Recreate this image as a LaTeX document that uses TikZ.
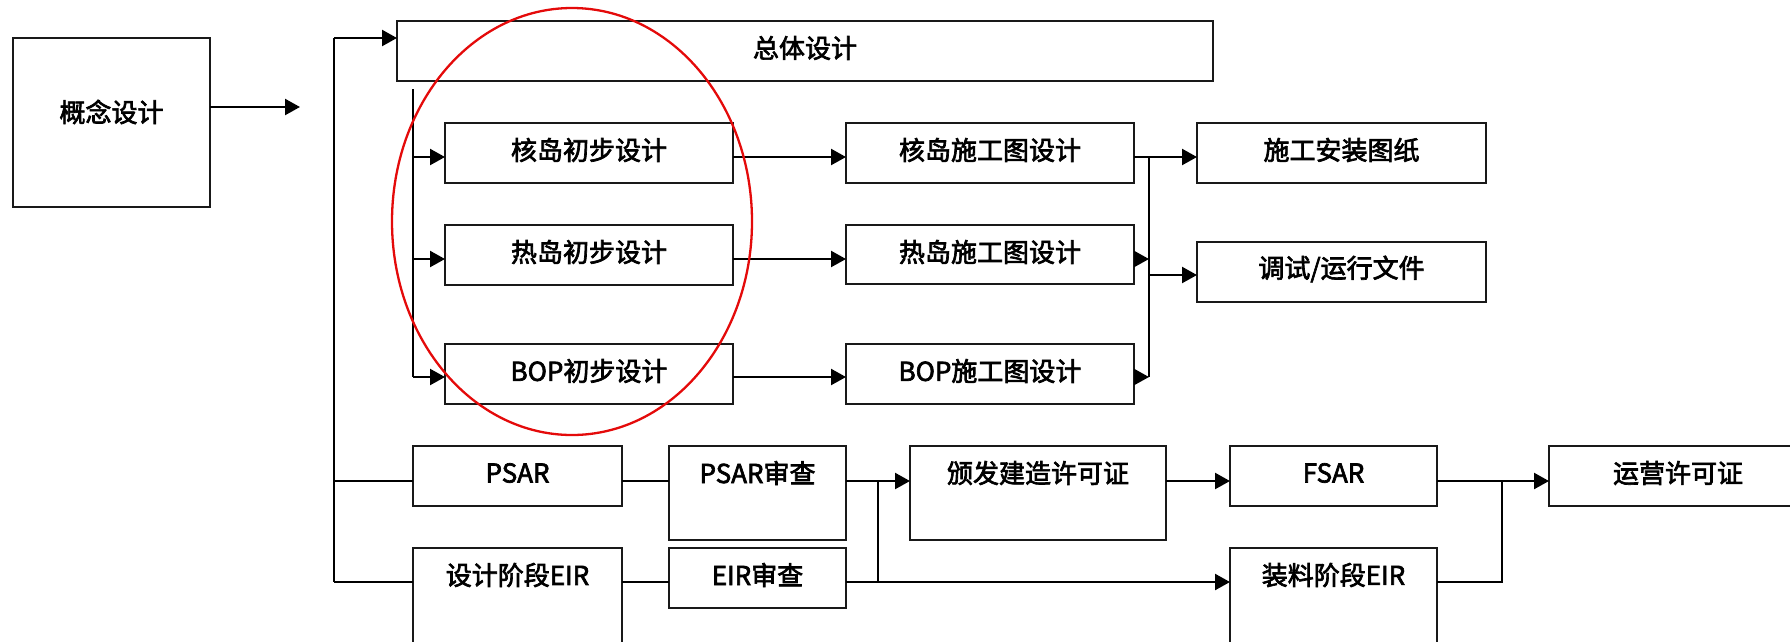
\documentclass[tikz,border=0pt]{standalone}
\usepackage{fontspec}
\setmainfont{Noto Sans CJK SC}[AutoFakeBold=2.6]
\usetikzlibrary{arrows.meta}
\definecolor{ovred}{RGB}{228,10,10}
\definecolor{edge}{RGB}{25,25,25}
\tikzset{
  box/.style={draw=edge, line width=1.8pt, anchor=north west, inner sep=0pt, outer sep=0pt},
  txt/.style={font=\fontsize{26}{30}\selectfont\bfseries, inner sep=0pt, text=black},
  conn/.style={line width=2.3pt, black},
  arr/.style={conn, -{Triangle[length=15pt,width=16pt]}},
}
\newcommand{\bx}[5]{\node[box, minimum width=#4pt, minimum height=#5pt] (#1) at (#2,#3) {};}
\begin{document}
\begin{tikzpicture}[x=1pt,y=-1pt]
\useasboundingbox (0,0) rectangle (1790,641);
\clip (0,0) rectangle (1790,641);
% boxes
\bx{gainian}{13}{38}{197}{169}
\bx{zongti}{397}{21}{816}{60}
\bx{hd1}{445}{123}{288}{60}
\bx{rd1}{445}{225}{288}{60}
\bx{bop1}{445}{344}{288}{60}
\bx{hd2}{846}{123}{288}{60}
\bx{rd2}{846}{225}{288}{59}
\bx{bop2}{846}{344}{288}{60}
\bx{sgaz}{1197}{123}{289}{60}
\bx{tsyx}{1197}{242}{289}{60}
\bx{psar}{413}{446}{209}{60}
\bx{psarsc}{669}{446}{177}{94}
\bx{bfjz}{910}{446}{256}{94}
\bx{fsar}{1230}{446}{207}{60}
\bx{yyxk}{1549}{446}{258}{60}
\bx{sjeir}{413}{548}{209}{120}
\bx{eirsc}{669}{548}{177}{60}
\bx{zleir}{1230}{548}{207}{120}
% texts
\node[txt] (t-gainian) at ([yshift=-74pt]gainian.north) {概念设计};
\node[txt] (t-zongti) at ([yshift=-27pt]zongti.north) {总体设计};
\node[txt] (t-hd1) at ([yshift=-27pt]hd1.north) {核岛初步设计};
\node[txt] (t-rd1) at ([yshift=-27pt]rd1.north) {热岛初步设计};
\node[txt] (t-bop1) at ([yshift=-27pt]bop1.north) {BOP初步设计};
\node[txt] (t-hd2) at ([yshift=-27pt]hd2.north) {核岛施工图设计};
\node[txt] (t-rd2) at ([yshift=-27pt]rd2.north) {热岛施工图设计};
\node[txt] (t-bop2) at ([yshift=-27pt]bop2.north) {BOP施工图设计};
\node[txt] (t-sgaz) at ([yshift=-27pt]sgaz.north) {施工安装图纸};
\node[txt] (t-tsyx) at ([yshift=-27pt]tsyx.north) {调试/运行文件};
\node[txt] (t-psar) at ([yshift=-27pt]psar.north) {PSAR};
\node[txt] (t-psarsc) at ([yshift=-27pt]psarsc.north) {PSAR审查};
\node[txt] (t-bfjz) at ([yshift=-27pt]bfjz.north) {颁发建造许可证};
\node[txt] (t-fsar) at ([yshift=-27pt]fsar.north) {FSAR};
\node[txt] (t-yyxk) at ([yshift=-27pt]yyxk.north) {运营许可证};
\node[txt] (t-sjeir) at ([yshift=-27pt]sjeir.north) {设计阶段EIR};
\node[txt] (t-eirsc) at ([yshift=-27pt]eirsc.north) {EIR审查};
\node[txt] (t-zleir) at ([yshift=-27pt]zleir.north) {装料阶段EIR};
% row coordinates
\coordinate (r1) at (0,157);
\coordinate (r2) at (0,259);
\coordinate (r3) at (0,377);
\coordinate (r4) at (0,275);
\coordinate (rowP) at (0,481);
\coordinate (rowE) at (0,582);
% top-left connectors
\coordinate (gaEnd) at (300,107);
\draw[arr] (gainian.east |- gaEnd) -- (gaEnd);
\coordinate (Ltop) at (334,38);
\coordinate (Lbot) at (334,582);
\draw[arr] (Ltop) -- (Ltop -| zongti.west);
\draw[conn] (Ltop) -- (Lbot);
\draw[conn] (Lbot |- rowP) -- (rowP -| psar.west);
\draw[conn] (Lbot) -- (rowE -| sjeir.west);
% preliminary design branch
\coordinate (Itop) at (413,89);
\coordinate (Ibot) at (413,377);
\draw[conn] (Itop) -- (Ibot);
\draw[arr] (Itop |- r1) -- (r1 -| hd1.west);
\draw[arr] (Itop |- r2) -- (r2 -| rd1.west);
\draw[arr] (Ibot) -- (r3 -| bop1.west);
\draw[arr] (r1 -| hd1.east) -- (r1 -| hd2.west);
\draw[arr] (r2 -| rd1.east) -- (r2 -| rd2.west);
\draw[arr] (r3 -| bop1.east) -- (r3 -| bop2.west);
% right collector
\coordinate (Rtop) at (1149,157);
\coordinate (Rbot) at (1149,377);
\draw[conn] (Rtop) -- (Rbot);
\draw[conn] (r1 -| hd2.east) -- (Rtop);
\draw[arr] (Rtop) -- (r1 -| sgaz.west);
\draw[arr] (r2 -| rd2.east) -- (Rtop |- r2);
\draw[arr] (r3 -| bop2.east) -- (Rbot);
\draw[arr] (Rtop |- r4) -- (r4 -| tsyx.west);
% licensing rows
\draw[conn] (rowP -| psar.east) -- (rowP -| psarsc.west);
\draw[conn] (rowE -| sjeir.east) -- (rowE -| eirsc.west);
\coordinate (J1) at (878,481);
\draw[arr] (rowP -| psarsc.east) -- (rowP -| bfjz.west);
\draw[conn] (J1) -- (J1 |- rowE);
\draw[arr] (rowE -| eirsc.east) -- (rowE -| zleir.west);
\draw[arr] (rowP -| bfjz.east) -- (rowP -| fsar.west);
\coordinate (J2) at (1502,481);
\draw[arr] (rowP -| fsar.east) -- (rowP -| yyxk.west);
\draw[conn] (rowE -| zleir.east) -- (J2 |- rowE) -- (J2);
% red ellipse
\draw[ovred, line width=2.3pt] (572,221.5) ellipse [x radius=180pt, y radius=213.5pt];
\end{tikzpicture}
\end{document}
